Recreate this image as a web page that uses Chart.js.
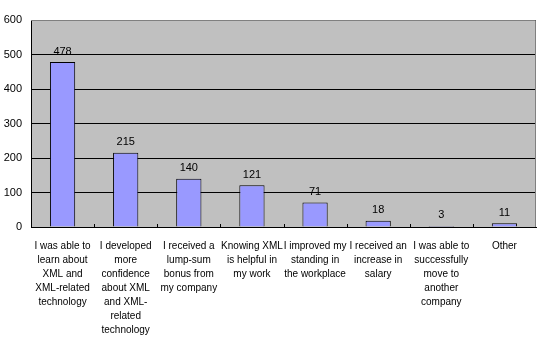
<!DOCTYPE html>
<html>
<head>
<meta charset="utf-8">
<script src="https://cdn.jsdelivr.net/npm/chart.js@4.4.1/dist/chart.umd.min.js"></script>
<style>
  html, body { margin: 0; padding: 0; background: #fff; }
  #wrap { width: 542px; height: 339px; position: relative; }
</style>
</head>
<body>
<div id="wrap"><canvas id="myChart"></canvas></div>
<script>
// 항목 (줄바꿈된 라벨)
const categories = [
  ["I was able to", "learn about", "XML and", "XML-related", "technology"],
  ["I developed", "more", "confidence", "about XML", "and XML-", "related", "technology"],
  ["I received a", "lump-sum", "bonus from", "my company"],
  ["Knowing XML", "is helpful in", "my work"],
  ["I improved my", "standing in", "the workplace"],
  ["I received an", "increase in", "salary"],
  ["I was able to", "successfully", "move to", "another", "company"],
  ["Other"]
];
const counts = [478, 215, 140, 121, 71, 18, 3, 11];
const yTicks = [0, 100, 200, 300, 400, 500, 600];

// 플롯 영역 배경 + 위/오른쪽 회색 테두리 + 안쪽 눈금
const plotArea = {
  id: "plotArea",
  beforeDraw(chart) {
    const { ctx, chartArea: a } = chart;
    ctx.save();
    ctx.fillStyle = "#C0C0C0";
    ctx.fillRect(a.left, a.top, a.right - a.left, a.bottom - a.top);
    ctx.restore();
  },
  afterDatasetsDraw(chart) {
    const { ctx, chartArea: a, scales } = chart;
    ctx.save();
    ctx.strokeStyle = "#808080";
    ctx.lineWidth = 1;
    ctx.beginPath();
    ctx.moveTo(a.left, a.top + 0.5);
    ctx.lineTo(a.right - 0.5, a.top + 0.5);
    ctx.lineTo(a.right - 0.5, a.bottom);
    ctx.stroke();
    // x축 카테고리 경계 눈금
    ctx.strokeStyle = "#000";
    ctx.beginPath();
    const n = categories.length;
    for (let i = 1; i < n; i++) {
      const x = Math.round(scales.x.getPixelForValue(i - 0.5)) + 0.5;
      ctx.moveTo(x, a.bottom);
      ctx.lineTo(x, a.bottom - 3);
    }
    ctx.stroke();
    // 막대 위 값 표시
    ctx.fillStyle = "#000";
    ctx.font = "11px 'Liberation Sans'";
    ctx.textAlign = "center";
    ctx.textBaseline = "bottom";
    chart.getDatasetMeta(0).data.forEach((bar, i) => {
      ctx.fillText(String(counts[i]), bar.x, bar.y - 5);
    });
    ctx.restore();
  }
};

const ctx = document.getElementById("myChart").getContext("2d");
const myChart = new Chart(ctx, {
  type: "bar",
  data: {
    labels: categories,
    datasets: [{
      data: counts,
      backgroundColor: "#9999FF",
      borderColor: "#000000",
      borderWidth: 1,
      barPercentage: 0.4,
      categoryPercentage: 1.0
    }]
  },
  options: {
    responsive: true,
    maintainAspectRatio: false,
    animation: false,
    layout: { padding: { top: 20, right: 6, left: 0, bottom: 0 } },
    plugins: {
      legend: { display: false },
      tooltip: { enabled: false }
    },
    scales: {
      x: {
        grid: { display: false },
        border: { color: "#000", width: 1 },
        ticks: {
          color: "#000",
          font: { family: "Liberation Sans", size: 10, lineHeight: 1.4 },
          padding: 4,
          maxRotation: 0,
          autoSkip: false
        },
        afterFit(scale) { scale.height = 112; }
      },
      y: {
        min: 0,
        max: 600,
        afterBuildTicks(scale) { scale.ticks = yTicks.map(v => ({ value: v })); },
        grid: { color: "#000", lineWidth: 1, drawTicks: false },
        border: { color: "#000", width: 1 },
        ticks: {
          color: "#000",
          font: { family: "Liberation Sans", size: 11 },
          padding: 9
        },
        afterFit(scale) { scale.width = 31; }
      }
    }
  },
  plugins: [plotArea]
});
</script>
</body>
</html>
